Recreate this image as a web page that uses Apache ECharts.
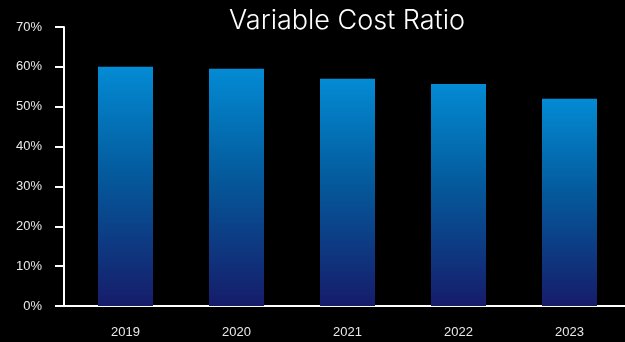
<!DOCTYPE html>
<html>
<head>
<meta charset="utf-8">
<script src="https://cdn.jsdelivr.net/npm/echarts@6/dist/echarts.min.js"></script>
<style>
  html, body { margin: 0; padding: 0; background: #000; }
  #chart { width: 625px; height: 342px; }
</style>
</head>
<body>
<div id="chart"></div>
<script>
// Variable cost ratio by year (percent)
const years = ['2019', '2020', '2021', '2022', '2023'];
const ratios = [60, 59.5, 57, 55.7, 52];
const yTicks = { min: 0, max: 70, step: 10 };

const chart = echarts.init(document.getElementById('chart'));

const barFill = new echarts.graphic.LinearGradient(0, 0, 0, 1, [
  { offset: 0, color: '#038bd4' },
  { offset: 0.45, color: '#045a9c' },
  { offset: 1, color: '#161c6a' }
]);

chart.setOption({
  backgroundColor: '#000',
  animation: false,
  title: {
    text: 'Variable Cost Ratio',
    left: 342,
    top: 2,
    textAlign: 'center',
    textStyle: {
      color: '#ffffff',
      fontFamily: 'Inter',
      fontWeight: 300,
      fontSize: 27
    }
  },
  grid: { left: 70, right: -2, top: 27, bottom: 36 },
  xAxis: {
    type: 'category',
    data: years,
    axisLine: { lineStyle: { color: '#ffffff', width: 2 } },
    axisTick: { show: false },
    axisLabel: {
      color: '#e8e8e8',
      fontFamily: 'Liberation Sans',
      fontSize: 13,
      margin: 20
    }
  },
  yAxis: {
    type: 'value',
    min: yTicks.min,
    max: yTicks.max,
    interval: yTicks.step,
    offset: 6,
    splitLine: { show: false },
    axisLine: { show: true, lineStyle: { color: '#ffffff', width: 2 } },
    axisTick: { show: true, length: 9, lineStyle: { color: '#ffffff', width: 2 } },
    axisLabel: {
      color: '#e8e8e8',
      fontFamily: 'Liberation Sans',
      fontSize: 13,
      margin: 22,
      formatter: '{value}%'
    }
  },
  series: [{
    type: 'bar',
    data: ratios,
    barWidth: 55,
    itemStyle: { color: barFill }
  }],
  graphic: [{
    // joins the baseline to the offset value axis
    type: 'rect',
    shape: { x: 63, y: 305, width: 8, height: 2 },
    style: { fill: '#ffffff' }
  }]
});
</script>
</body>
</html>
